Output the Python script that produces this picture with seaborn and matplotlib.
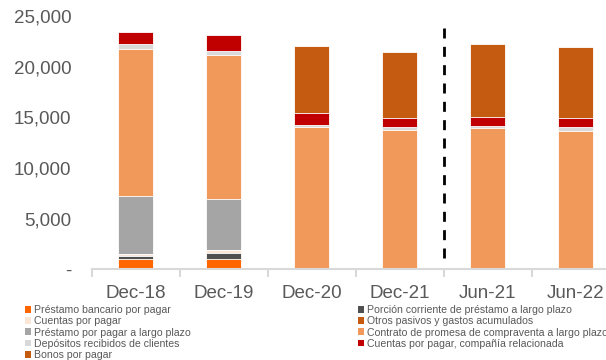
import matplotlib
matplotlib.use("Agg")
import matplotlib.pyplot as plt
import seaborn as sns
import pandas as pd
import numpy as np
from matplotlib.patches import Patch
from matplotlib.ticker import FuncFormatter

categories = ['Dec-18', 'Dec-19', 'Dec-20', 'Dec-21', 'Jun-21', 'Jun-22']

prestamo_bancario = [1020, 1020, 0, 0, 0, 0]
porcion_corriente = [330, 620, 0, 0, 0, 0]
cuentas_por_pagar = [120, 240, 0, 0, 0, 0]
otros_pasivos = [0, 0, 0, 0, 0, 0]
prestamo_largo = [5800, 5030, 0, 0, 0, 0]
contrato_promesa = [14480, 14240, 14075, 13780, 13950, 13680]
depositos = [520, 420, 170, 300, 225, 335]
cuentas_relacionada = [1125, 1520, 1215, 890, 890, 950]
bonos = [0, 0, 6610, 6450, 7200, 7010]

series_names = [
    'Préstamo bancario por pagar',
    'Porción corriente de préstamo a largo plazo',
    'Cuentas por pagar',
    'Otros pasivos y gastos acumulados',
    'Préstamo por pagar a largo plazo',
    'Contrato de promesa de compraventa a largo plazo',
    'Depósitos recibidos de clientes',
    'Cuentas por pagar, compañía relacionada',
    'Bonos por pagar',
]
series_values = [prestamo_bancario, porcion_corriente, cuentas_por_pagar, otros_pasivos,
                 prestamo_largo, contrato_promesa, depositos, cuentas_relacionada, bonos]
series_colors = ['#FF6600', '#505050', '#FBE5D6', '#C55A11', '#A5A5A5',
                 '#F1995B', '#D9D9D9', '#C00000', '#C55A11']

yticks = [0, 5000, 10000, 15000, 20000, 25000]

plt.rcParams['font.family'] = ['Liberation Sans', 'DejaVu Sans']
plt.rcParams['lines.scale_dashes'] = False

W, H = 606, 360
fig = plt.figure(figsize=(W / 100, H / 100), dpi=100)
ax = fig.add_axes([91.5 / W, (H - 269.3) / H, 528 / W, 253.3 / H])

cum = np.cumsum(np.array(series_values, dtype=float), axis=0)
# draw from top of stack to bottom so lower segments overlap upper bars
for i in range(len(series_names) - 1, -1, -1):
    df = pd.DataFrame({'cat': categories, 'val': cum[i]})
    sns.barplot(data=df, x='cat', y='val', order=categories, color=series_colors[i],
                saturation=1, width=0.4, edgecolor='white', linewidth=0.6, ax=ax,
                errorbar=None)

ax.set_xlim(-0.5, 5.5)
ax.set_ylim(0, 25000)
ax.set_xlabel('')
ax.set_ylabel('')

# dashed separator between Dec-21 and Jun-21
ax.plot([3.5, 3.5], [1100, 24100], color='black', linewidth=2.0,
        linestyle=(0, (7.2, 6.0)), solid_capstyle='butt')

for s in ['top', 'right', 'left']:
    ax.spines[s].set_visible(False)
ax.spines['bottom'].set_color('#D9D9D9')
ax.spines['bottom'].set_linewidth(1.5)

ax.set_yticks(yticks)
ax.yaxis.set_major_formatter(FuncFormatter(lambda v, p: '-' if v == 0 else f'{v:,.0f}'))
ax.tick_params(axis='y', length=0, pad=14.5, labelsize=13.5, labelcolor='#595959')
ax.tick_params(axis='x', which='major', length=0, pad=11, labelsize=13.5, labelcolor='#595959')
ax.set_xticks(np.arange(-0.5, 6.0, 1.0), minor=True)
ax.tick_params(axis='x', which='minor', length=6, width=1.5, color='#D9D9D9')
ax.grid(False)

handles = [Patch(facecolor=c, edgecolor='none') for c in series_colors]
left_idx = [0, 2, 4, 6, 8]
right_idx = [1, 3, 5, 7]
common = dict(frameon=False, fontsize=7.6, handlelength=0.6, handleheight=0.6,
              handletextpad=0.25, labelspacing=0.12, borderpad=0, borderaxespad=0,
              loc='upper left', labelcolor='#595959')
leg1 = fig.legend([handles[i] for i in left_idx], [series_names[i] for i in left_idx],
                  bbox_to_anchor=(25 / W, (H - 305) / H), **common)
leg2 = fig.legend([handles[i] for i in right_idx], [series_names[i] for i in right_idx],
                  bbox_to_anchor=(358 / W, (H - 305) / H), **common)

fig.savefig('out.png', dpi=100)
